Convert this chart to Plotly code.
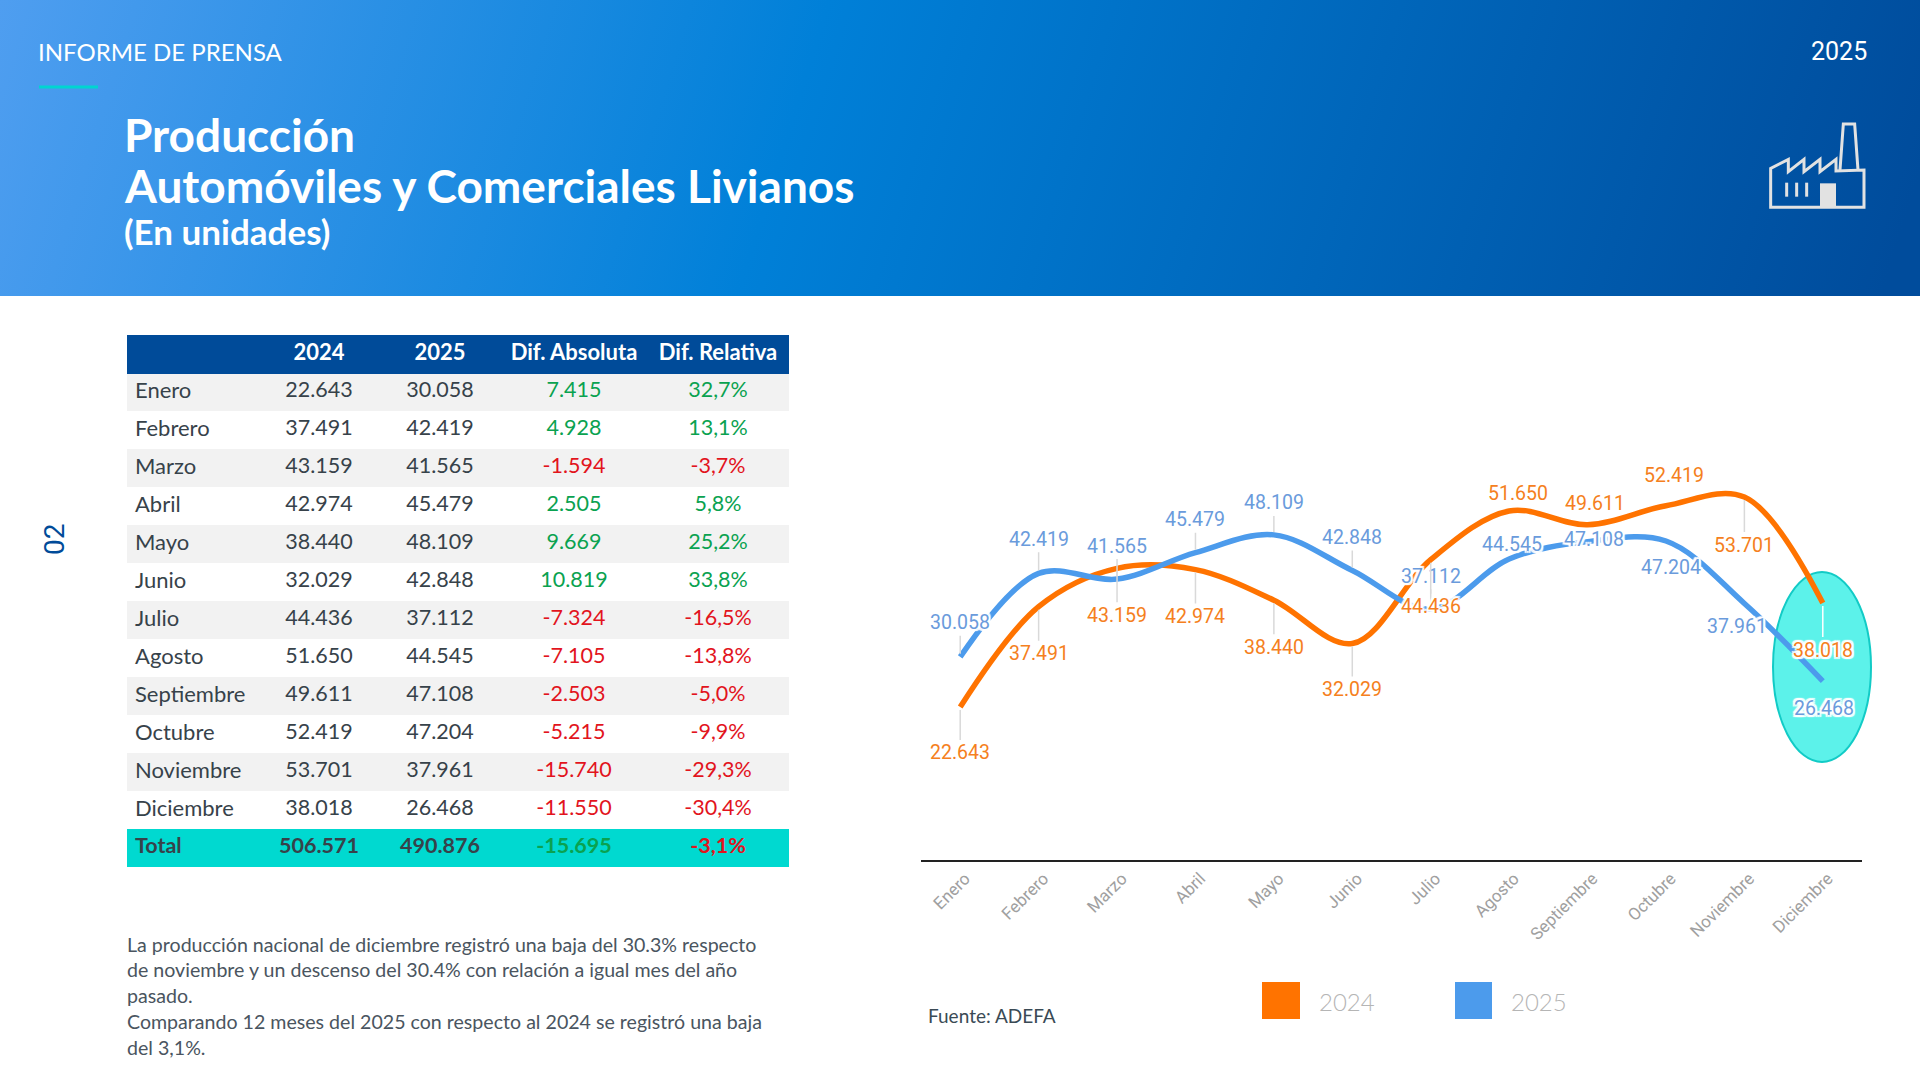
import base64
import plotly.graph_objects as go

months = ['Enero', 'Febrero', 'Marzo', 'Abril', 'Mayo', 'Junio', 'Julio', 'Agosto',
          'Septiembre', 'Octubre', 'Noviembre', 'Diciembre']
prod_2024 = [22643, 37491, 43159, 42974, 38440, 32029, 44436, 51650, 49611, 52419, 53701, 38018]
prod_2025 = [30058, 42419, 41565, 45479, 48109, 42848, 37112, 44545, 47108, 47204, 37961, 26468]

col_2024 = ['22.643', '37.491', '43.159', '42.974', '38.440', '32.029', '44.436', '51.650',
            '49.611', '52.419', '53.701', '38.018']
col_2025 = ['30.058', '42.419', '41.565', '45.479', '48.109', '42.848', '37.112', '44.545',
            '47.108', '47.204', '37.961', '26.468']
col_abs = ['7.415', '4.928', '-1.594', '2.505', '9.669', '10.819', '-7.324', '-7.105',
           '-2.503', '-5.215', '-15.740', '-11.550']
col_rel = ['32,7%', '13,1%', '-3,7%', '5,8%', '25,2%', '33,8%', '-16,5%', '-13,8%',
           '-5,0%', '-9,9%', '-29,3%', '-30,4%']
total_row = ['Total', '506.571', '490.876', '-15.695', '-3,1%']

notes = ['La producción nacional de diciembre registró una baja del 30.3% respecto',
         'de noviembre y un descenso del 30.4% con relación a igual mes del año',
         'pasado.',
         'Comparando 12 meses del 2025 con respecto al 2024 se registró una baja',
         'del 3,1%.']

ORANGE = '#ff7300'
BLUE = '#4c9bec'
LABEL_ORANGE = '#f57f20'
LABEL_BLUE = '#6a9bdc'
GREEN = '#0aa250'
RED = '#e2141d'
DARK = '#37424a'
TEAL = '#00d9d0'
NAVY = '#004b99'
HALO = ','.join(f'{a}px {b}px 1px #fff' for a in (-2, 0, 2) for b in (-2, 0, 2))

# label offsets from each point, in pixels
dy_2024 = [46, 47, 47, 47, 47, 46, 47, -17, -21, -30, 48, 47]
dx_2024 = [0, 0, 0, 0, 0, 0, 0, 9, 7, 8, 0, 0]
dy_2025 = [-34, -34, -33, -33, -32, -33, -33, -14, -2, 27, 23, 27]
dx_2025 = [0, 0, 0, 0, 0, 0, 0, 3, 6, 5, -7, 1]


def px(x):
    return x / 1920


def py(y):
    return 1 - y / 1080


def page_path(points, close=False):
    d = 'M' + 'L'.join(f'{px(x):.5f},{py(y):.5f}' for x, y in points)
    return d + ('Z' if close else '')


def text(x, y, s, size, color, font='Lato', anchor='left', weight=None, angle=0):
    return dict(xref='paper', yref='paper', x=px(x), y=py(y), text=s, showarrow=False,
                xanchor=anchor, yanchor='middle', textangle=angle,
                font=dict(family=font, size=size, color=color, weight=weight))


fig = go.Figure()

fig.add_trace(go.Scatter(x=months, y=prod_2024, name='2024', mode='lines',
                         line=dict(color=ORANGE, width=5.5, shape='spline', smoothing=1)))
fig.add_trace(go.Scatter(x=months, y=prod_2025, name='2025', mode='lines',
                         line=dict(color=BLUE, width=5.5, shape='spline', smoothing=1)))

# table, the bold total row is a second header-only table
n = len(months)
col_widths = [131, 122, 120, 148, 140]
col_align = ['left', 'center', 'center', 'center', 'center']
band = ['#f2f2f2' if i % 2 == 0 else '#ffffff' for i in range(n)]
good = [GREEN if not v.startswith('-') else RED for v in col_abs]
fig.add_trace(go.Table(
    domain=dict(x=[px(127), px(788)], y=[py(830), py(335)]),
    columnwidth=col_widths,
    header=dict(values=['', '2024', '2025', 'Dif.\u00a0Absoluta', 'Dif.\u00a0Relativa'],
                fill_color=NAVY, line_color=NAVY, height=38, align='center',
                font=dict(family='Lato', size=22, color='#ffffff', weight=700)),
    cells=dict(values=[months, col_2024, col_2025, col_abs, col_rel],
               fill_color=[band], line_color=[band], height=38,
               align=col_align,
               font=dict(family='Lato', size=[22, 21.5, 21.5, 21.5, 21.5],
                         color=[[DARK] * n, [DARK] * n, [DARK] * n, good, good])),
))
fig.add_trace(go.Table(
    domain=dict(x=[px(127), px(788)], y=[py(868), py(829)]),
    columnwidth=col_widths,
    header=dict(values=total_row, fill_color=TEAL, line_color=TEAL, height=38, align=col_align,
                font=dict(family='Lato', size=21.5, weight=700, color=[DARK, DARK, DARK, GREEN, RED])),
    cells=dict(values=[[], [], [], [], []]),
))

shapes = [
    # highlighted December
    dict(type='circle', xref='paper', yref='paper', x0=px(1773), x1=px(1871), y0=py(762), y1=py(572),
         fillcolor='#5cf2ea', line=dict(color='#12cbc6', width=2), layer='below'),
    # accent under the kicker
    dict(type='rect', xref='paper', yref='paper', x0=px(39), x1=px(98), y0=py(85.5), y1=py(88.5),
         fillcolor='#00d5d0', line_width=0),
    # legend squares
    dict(type='rect', xref='paper', yref='paper', x0=px(1262), x1=px(1300), y0=py(982), y1=py(1019),
         fillcolor=ORANGE, line_width=0),
    dict(type='rect', xref='paper', yref='paper', x0=px(1455), x1=px(1492), y0=py(982), y1=py(1019),
         fillcolor=BLUE, line_width=0),
]

# factory icon
icon = '#e2e2e2'
ix = lambda v: 1680 + v / 3
iy = lambda v: v / 3
body = [(272, 622), (272, 505), (325, 478), (325, 515), (372, 478), (372, 515), (420, 478), (420, 515),
        (468, 478), (468, 513), (552, 510), (552, 622)]
stack = [(480, 510), (490, 372), (524, 372), (534, 510)]
door = [(420, 550), (468, 550), (468, 622), (420, 622)]
shapes.append(dict(type='path', xref='paper', yref='paper', line=dict(color=icon, width=3),
                   path=page_path([(ix(a), iy(b)) for a, b in body], close=True)))
shapes.append(dict(type='path', xref='paper', yref='paper', line=dict(color=icon, width=3),
                   path=page_path([(ix(a), iy(b)) for a, b in stack])))
shapes.append(dict(type='path', xref='paper', yref='paper', line_width=0, fillcolor=icon,
                   path=page_path([(ix(a), iy(b)) for a, b in door], close=True)))
for w in (320, 350, 380):
    shapes.append(dict(type='path', xref='paper', yref='paper', line=dict(color=icon, width=3),
                       path=page_path([(ix(w), iy(548)), (ix(w), iy(590))])))

annotations = [
    text(36, 51, 'INFORME DE PRENSA', 24, '#ffffff'),
    text(1869, 51, '2025', 25, '#ffffff', font='Roboto', anchor='right'),
    text(122, 134, 'Producción', 46, '#ffffff', weight=700),
    text(122, 185.5, 'Automóviles y Comerciales Livianos', 46, '#ffffff', weight=700),
    text(122, 231, '(En unidades)', 35, '#ffffff', weight=700),
    text(54, 540, '02', 28, NAVY, font='Roboto', anchor='center', angle=-90),
    text(926, 1015, 'Fuente: ADEFA', 19, '#3a4a55'),
    text(1317, 1001, '2024', 24, '#b5b5b5', weight=300),
    text(1509, 1001, '2025', 24, '#b5b5b5', weight=300),
]

for i, line in enumerate(notes):
    annotations.append(text(125, 944 + i * 25.8, line, 19.6, '#4a5560'))


def point_labels(values, dxs, dys, color):
    out = []
    for m, v, dx, dy in zip(months, values, dxs, dys):
        lead = '#d9d9d9' if dx == 0 else 'rgba(0,0,0,0)'
        if m == 'Diciembre':
            lead = '#ffffff' if dx == 0 else 'rgba(0,0,0,0)'
        out.append(dict(xref='x', yref='y', x=m, y=v, ax=dx, ay=dy, text=f'{v:,}'.replace(',', '.'),
                        showarrow=True, arrowhead=0, arrowwidth=1.5, arrowcolor=lead, standoff=3,
                        font=dict(family='Roboto', size=19.5, color=color, shadow=HALO)))
    return out


annotations += point_labels(prod_2025, dx_2025, dy_2025, LABEL_BLUE)
annotations += point_labels(prod_2024, dx_2024, dy_2024, LABEL_ORANGE)

# diagonal gradient for the header band
svg = ('<svg xmlns="http://www.w3.org/2000/svg" width="1920" height="296">'
       '<defs><linearGradient id="g" gradientUnits="userSpaceOnUse" x1="0" y1="0" x2="1800" y2="560">'
       '<stop offset="0" stop-color="#4f9ef0"/><stop offset="0.42" stop-color="#0080d8"/>'
       '<stop offset="1" stop-color="#004c9c"/></linearGradient></defs>'
       '<rect width="1920" height="296" fill="url(#g)"/></svg>')
header_img = 'data:image/svg+xml;base64,' + base64.b64encode(svg.encode()).decode()

fig.update_layout(
    width=1920, height=1080,
    margin=dict(l=0, r=0, t=0, b=0),
    paper_bgcolor='#ffffff', plot_bgcolor='rgba(0,0,0,0)',
    showlegend=False,
    shapes=shapes,
    annotations=annotations,
    images=[dict(source=header_img, xref='paper', yref='paper', x=0, y=1, sizex=1, sizey=296 / 1080,
                 xanchor='left', yanchor='top', sizing='stretch', layer='below')],
    xaxis=dict(domain=[px(921), px(1862)], range=[-0.5, 11.5], type='category', categoryorder='array',
               categoryarray=months, showgrid=False, zeroline=False, showline=True, linecolor='#222222',
               linewidth=2, ticks='', tickangle=-45, ticklabelshift=5,
               tickfont=dict(family='Roboto', size=17, color='#a0a0a0')),
    yaxis=dict(domain=[py(860), py(441)], range=[0, 62000], showgrid=False, zeroline=False,
               showticklabels=False, ticks=''),
)

fig.write_html("out.html", config={'displayModeBar': False},
               post_script="document.body.style.margin='0';")
